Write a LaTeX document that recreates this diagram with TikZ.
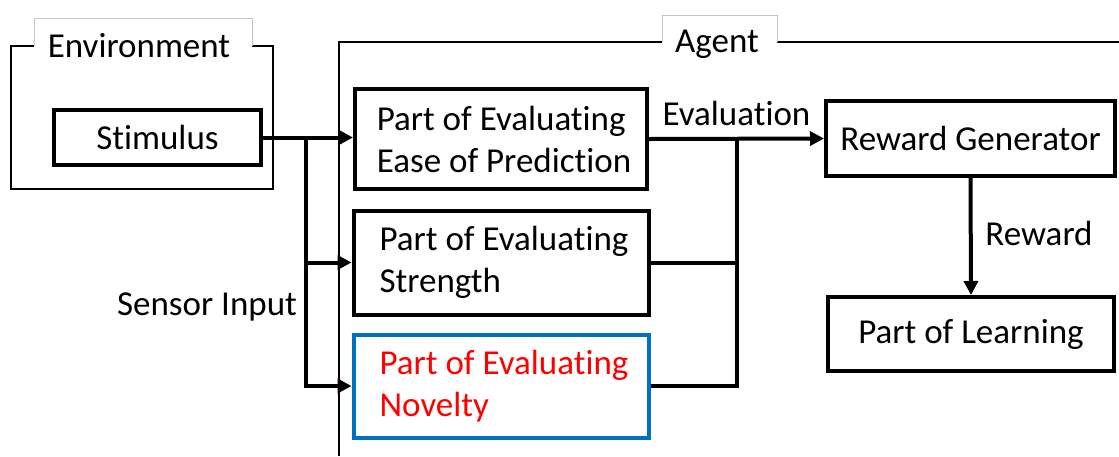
\documentclass[tikz,border=0pt]{standalone}
\usepackage{fontspec}
\setmainfont[Ligatures=NoCommon]{Carlito}
\usetikzlibrary{arrows.meta}
\definecolor{boxblue}{HTML}{0070C0}
\definecolor{tabgray}{HTML}{C4C4C4}
\begin{document}
\begin{tikzpicture}[x=1pt,y=-1pt,
  every node/.style={font=\fontsize{35}{42}\selectfont},
  thickbox/.style={draw, line width=4pt, rectangle, inner sep=0pt, align=left},
  frameline/.style={line width=1.3pt},
  tabline/.style={draw=tabgray, line width=1pt},
  conn/.style={line width=4pt},
  arr/.style={conn, -{Triangle[length=14pt,width=14pt]}},
  lbl/.style={inner sep=0pt, anchor=base}
]
\useasboundingbox (0,0) rectangle (1119,456);

% frames
\draw[frameline] (34,46) -- (11,46) -- (11,189) -- (273,189) -- (273,46) -- (252,46);
\draw[tabline] (34,46) -- (34,18) -- (252,18) -- (252,46);
\node[lbl] (envlbl) at (139,57) {Environment};

\draw[frameline] (1119,42) -- (777,42);
\draw[frameline] (662,42) -- (339,42) -- (339,456);
\draw[tabline] (662,42) -- (662,15) -- (777,15) -- (777,42);
\node[lbl] (agentlbl) at (717,52) {Agent};

% boxes
\node[thickbox, minimum width=207pt, minimum height=55pt] (stim) at (157.5,137.5) {Stimulus};
\node[thickbox, minimum width=292pt, minimum height=100pt] (b1) at (501,139) {\hspace*{6pt}Part of Evaluating\\\hspace*{6pt}Ease of Prediction};
\node[thickbox, minimum width=295pt, minimum height=104pt] (b2) at (501,262.5) {\hspace*{6pt}Part of Evaluating\\\hspace*{6pt}Strength};
\node[thickbox, draw=boxblue, text=red, minimum width=295pt, minimum height=103pt] (b3) at (501,386) {\hspace*{6pt}Part of Evaluating\\\hspace*{6pt}Novelty};
\node[thickbox, minimum width=289pt, minimum height=75pt] (rg) at (970.5,138.5) {Reward Generator};
\node[thickbox, minimum width=286pt, minimum height=74pt] (pl) at (971,334) {Part of Learning};

% labels
\node[lbl] (evallbl) at (736.5,125) {Evaluation};
\node[lbl] (rewlbl) at (1039,245) {Reward};
\node[lbl] (senslbl) at (207,315) {Sensor Input};

% connectors
\coordinate (split) at (306,137.5);
\coordinate (join) at (737,139);
\draw[arr] (stim.east) -- (stim.east -| b1.west);
\draw[arr] (split) |- (b2.west);
\draw[arr] (split) |- (b3.west);
\draw[arr] (b1.east) -- (rg.west);
\draw[conn] (b2.east) -| (join);
\draw[conn] (b3.east) -| (join);
\draw[arr] (rg.south) -- (pl.north);
\end{tikzpicture}
\end{document}
